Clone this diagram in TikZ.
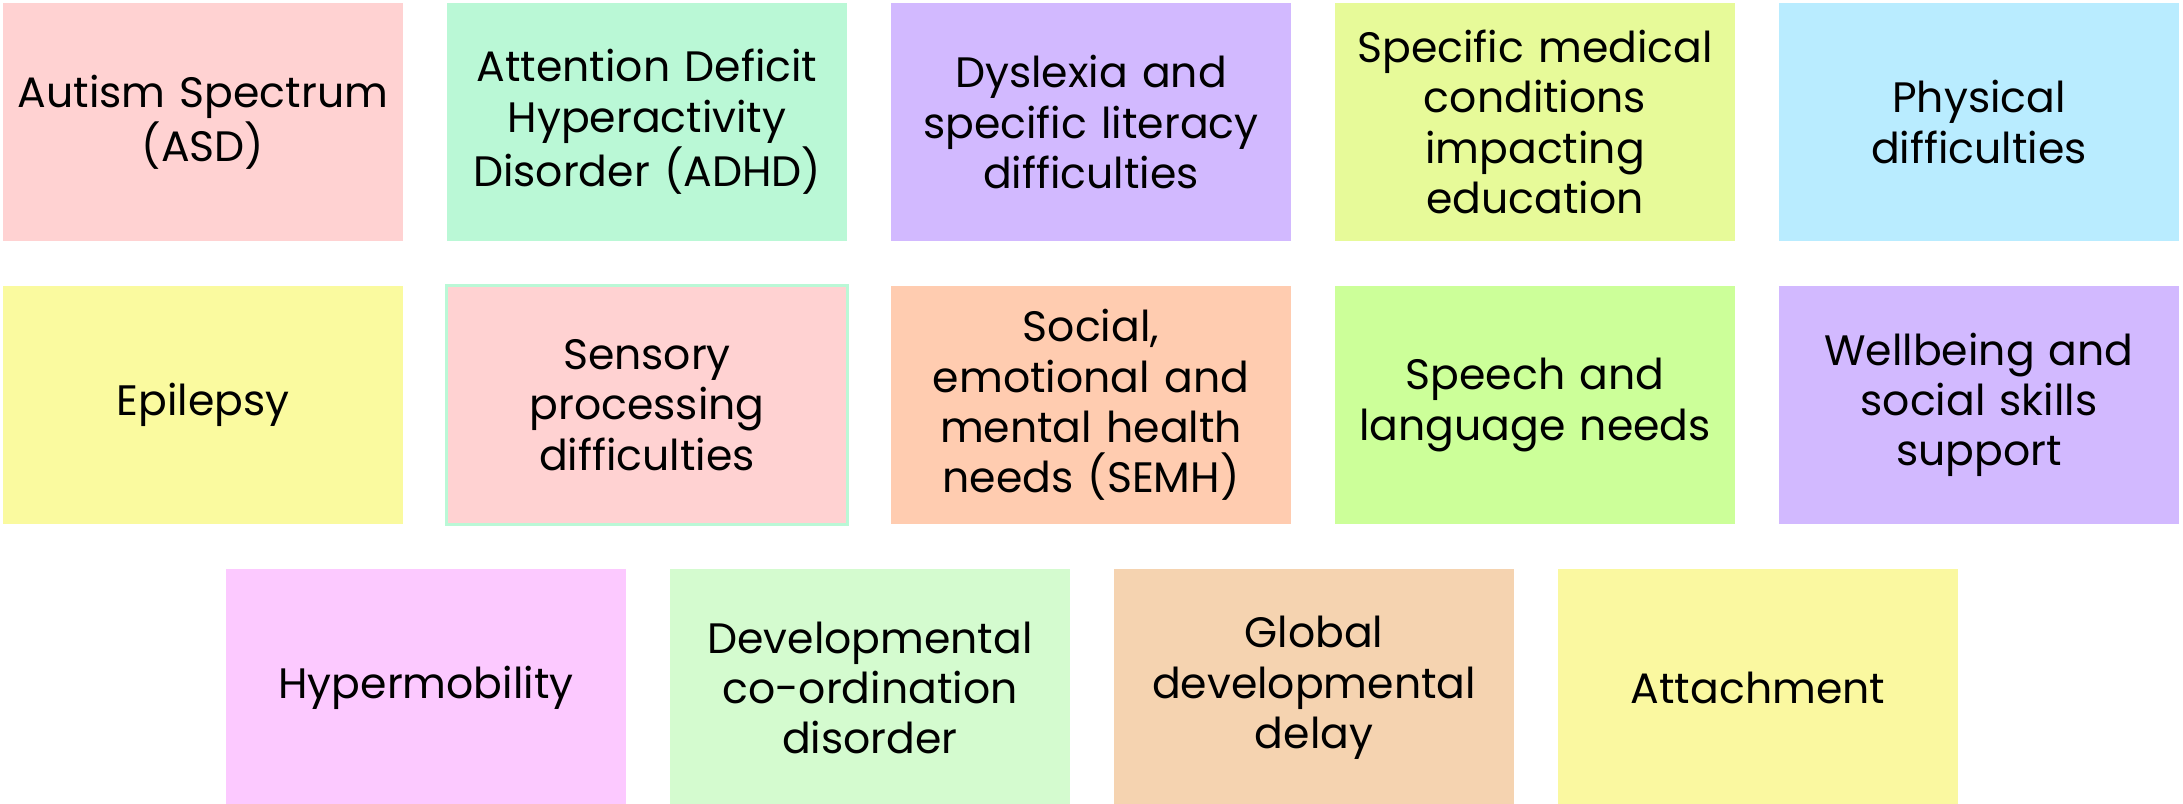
\documentclass[tikz,border=0pt]{standalone}
\usepackage{fontspec}
\setmainfont{Poppins}
\usetikzlibrary{positioning}

\definecolor{asdpink}{HTML}{FFD2D2}
\definecolor{adhdmint}{HTML}{BAF8D6}
\definecolor{dyslav}{HTML}{D2B9FF}
\definecolor{medlime}{HTML}{E7FA99}
\definecolor{physblue}{HTML}{B9ECFF}
\definecolor{epiyellow}{HTML}{FAFA9F}
\definecolor{semhpeach}{HTML}{FFCCB0}
\definecolor{speechgreen}{HTML}{CCFF99}
\definecolor{wellav}{HTML}{D2B9FF}
\definecolor{hypermag}{HTML}{FCC9FF}
\definecolor{dcdgreen}{HTML}{D4FBCF}
\definecolor{gddtan}{HTML}{F5D3B0}
\definecolor{attyellow}{HTML}{FAF8A0}

\begin{document}
\begin{tikzpicture}[x=0.01cm,y=-0.01cm,
  card/.style={rectangle,inner sep=0pt,minimum width=4cm,minimum height=2.38cm,
    text width=3.9cm,align=center,font=\fontsize{12.1}{14.3}\selectfont}]
%
\useasboundingbox (0,0) rectangle (2183,803);
%
\node[card,fill=asdpink] (asd) at (203,122) {Autism Spectrum\\(ASD)};
\node[card,fill=adhdmint] (adhd) at (647,122) {Attention Deficit\\Hyperactivity\\Disorder (ADHD)};
\node[card,fill=dyslav] (dys) at (1091,122) {Dyslexia and\\specific literacy\\difficulties};
\node[card,fill=medlime] (med) at (1535,122) {Specific medical\\conditions\\impacting\\education};
\node[card,fill=physblue] (phys) at (1979,122) {Physical\\difficulties};
%
\node[card,fill=epiyellow] (epi) at (203,405) {Epilepsy};
\node[card,fill=asdpink,draw=adhdmint,line width=0.03cm] (sens) at (647,405) {Sensory\\processing\\difficulties};
\node[card,fill=semhpeach] (semh) at (1091,405) {Social,\\emotional and\\mental health\\needs (SEMH)};
\node[card,fill=speechgreen] (slcn) at (1535,405) {Speech and\\language needs};
\node[card,fill=wellav] (well) at (1979,405) {Wellbeing and\\social skills\\support};
%
\node[card,fill=hypermag] (hyper) at (426,688) {Hypermobility};
\node[card,fill=dcdgreen] (dcd) at (870,688) {Developmental\\co-ordination\\disorder};
\node[card,fill=gddtan] (gdd) at (1314,688) {Global\\developmental\\delay};
\node[card,fill=attyellow] (att) at (1758,688) {Attachment};
\end{tikzpicture}
\end{document}
